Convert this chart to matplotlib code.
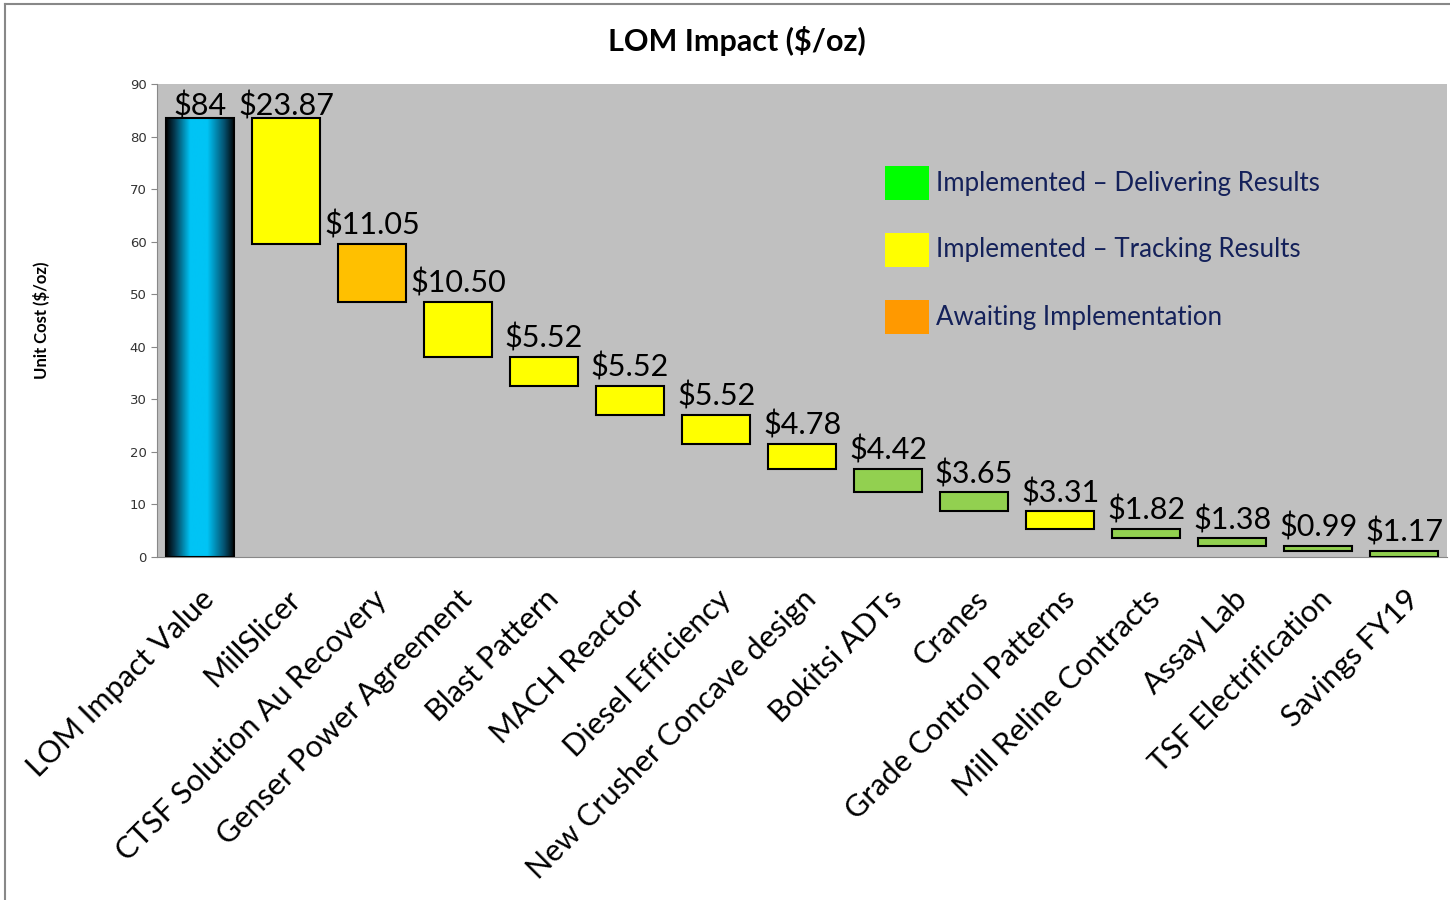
import numpy as np
import matplotlib.pyplot as plt
from matplotlib.patches import Rectangle
from matplotlib.colors import LinearSegmentedColormap

categories = ["LOM Impact Value", "MillSlicer", "CTSF Solution Au Recovery",
              "Genser Power Agreement", "Blast Pattern", "MACH Reactor",
              "Diesel Efficiency", "New Crusher Concave design", "Bokitsi ADTs",
              "Cranes", "Grade Control Patterns", "Mill Reline Contracts",
              "Assay Lab", "TSF Electrification", "Savings FY19"]
savings = [23.87, 11.05, 10.50, 5.52, 5.52, 5.52, 4.78, 4.42, 3.65, 3.31,
           1.82, 1.38, 0.99, 1.17]
status = ["tracking", "awaiting", "tracking", "tracking", "tracking", "tracking",
          "tracking", "delivering", "delivering", "tracking", "delivering",
          "delivering", "delivering", "delivering"]
total = sum(savings)

bar_colors = {"delivering": "#92D050", "tracking": "#FFFF00", "awaiting": "#FFC000"}
legend_items = [("Implemented \u2013 Delivering Results", "#00FF00"),
                ("Implemented \u2013 Tracking Results", "#FFFF00"),
                ("Awaiting Implementation", "#FF9900")]

plt.rcParams['font.family'] = ['Lato', 'DejaVu Sans']

fig = plt.figure(figsize=(14.5, 9), dpi=100)
ax = fig.add_axes([0.1083, 0.3811, 0.8897, 0.5256])
ax.set_facecolor("#C0C0C0")

w = 0.8
x = np.arange(len(categories))
lab_fs = 22

# total bar with cylinder-like gradient
rect = Rectangle((x[0] - w / 2, 0), w, total, facecolor="none", edgecolor="black", lw=1.5, zorder=3)
ax.add_patch(rect)
cmap = LinearSegmentedColormap.from_list("cyl", [(0, "#000000"), (0.12, "#05384f"), (0.35, "#00C4F5"),
                                                 (0.6, "#00C4F5"), (0.85, "#05506e"), (1, "#000000")])
grad = np.linspace(0, 1, 200).reshape(1, -1)
im = ax.imshow(grad, cmap=cmap, extent=(x[0] - w / 2, x[0] + w / 2, 0, total), aspect="auto", zorder=2)
im.set_clip_path(rect)
ax.annotate("$%d" % round(total), (x[0], total), xytext=(0, -2), textcoords="offset points",
            ha="center", va="bottom", fontsize=lab_fs, zorder=4, annotation_clip=False)

level = total
for i, (v, s) in enumerate(zip(savings, status)):
    xi = x[i + 1]
    ax.bar(xi, v, bottom=level - v, width=w, color=bar_colors[s], edgecolor="black", lw=1.5, zorder=3)
    off = -2 if i == 0 else 3
    ax.annotate("$%.2f" % v, (xi, level), xytext=(0, off), textcoords="offset points",
                ha="center", va="bottom", fontsize=lab_fs, zorder=4, annotation_clip=False)
    level -= v

ax.set_xlim(-0.5, len(categories) - 0.5)
ax.set_ylim(0, 90)
ax.set_yticks(range(0, 91, 10))
ax.tick_params(axis="y", labelsize=9.5, labelcolor="#333333", length=4, color="#888888",
               labelfontfamily="DejaVu Sans")
ax.set_xticks(x)
ax.set_xticklabels(categories, rotation=45, ha="right", rotation_mode="anchor", fontsize=22)
ax.tick_params(axis="x", length=0, pad=20)
for sp in ["top", "right"]:
    ax.spines[sp].set_visible(False)
ax.spines["left"].set_color("#888888")
ax.spines["bottom"].set_color("#888888")

ax.set_ylabel("Unit Cost ($/oz)", fontsize=12, fontweight="bold")
ax.yaxis.set_label_coords(-0.083, 0.5)
fig.text(0.508, 0.955, "LOM Impact ($/oz)", ha="center", va="center", fontsize=22, fontweight="bold")

# legend drawn in pixel coordinates of the figure
for k, (lab, col) in enumerate(legend_items):
    yc = 900 - (183 + k * 67)
    fig.patches.append(Rectangle((885 / 1450, (yc - 17) / 900), 44 / 1450, 34 / 900,
                                 facecolor=col, edgecolor="none", transform=fig.transFigure, zorder=5))
    fig.text(936 / 1450, yc / 900, lab, ha="left", va="center", fontsize=18.6, color="#14215A", zorder=5)

# outer border lines
fig.add_artist(plt.Line2D([5 / 1450, 1], [896 / 900, 896 / 900], color="#888888", lw=1.5))
fig.add_artist(plt.Line2D([5 / 1450, 5 / 1450], [0, 896 / 900], color="#888888", lw=1.5))

fig.savefig("out.png", dpi=100)
